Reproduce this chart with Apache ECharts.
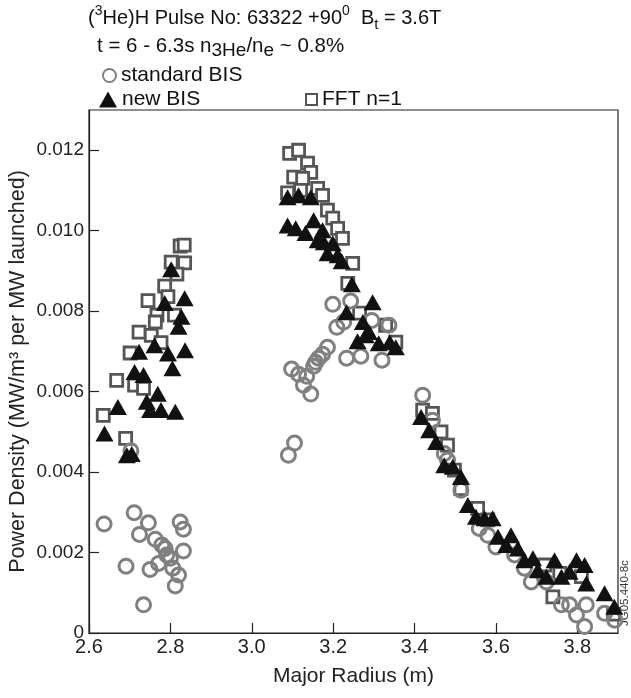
<!DOCTYPE html>
<html>
<head>
<meta charset="utf-8">
<script src="https://cdn.jsdelivr.net/npm/echarts@6/dist/echarts.min.js"></script>
<style>
  html, body { margin: 0; padding: 0; background: #fff; }
  #chart { width: 631px; height: 698px; }
</style>
</head>
<body>
<div id="chart"></div>
<script>
// Power density profiles vs major radius for three analysis methods
const standardR = [
  2.637, 2.711, 2.746, 2.724, 2.763, 2.779, 2.787, 2.824, 2.832, 2.832, 2.800, 2.771, 2.750, 2.806, 2.820, 2.812, 2.691, 2.734, 2.791, 2.703,
  3.090, 3.105, 3.098, 3.115, 3.127, 3.145, 3.135, 3.152, 3.164, 3.174, 3.186, 3.209, 3.226, 3.199, 3.243, 3.233, 3.268, 3.295, 3.320, 3.337, 3.157,
  3.420, 3.444, 3.473, 3.481, 3.514, 3.559, 3.580, 3.600, 3.646, 3.670, 3.687, 3.724, 3.761, 3.781, 3.798, 3.818, 3.822, 3.867, 3.892
];
const standardP = [
  0.00271, 0.00299, 0.00274, 0.00245, 0.00233, 0.00219, 0.00210, 0.00276, 0.00258, 0.00204, 0.00186, 0.00173, 0.00158, 0.00161, 0.00144, 0.00117, 0.00166, 0.00070, 0.00194, 0.00453,
  0.00442, 0.00472, 0.00656, 0.00643, 0.00616, 0.00594, 0.00638, 0.00663, 0.00683, 0.00693, 0.00710, 0.00760, 0.00773, 0.00817, 0.00825, 0.00683, 0.00688, 0.00777, 0.00678, 0.00765, 0.00673,
  0.00591, 0.00529, 0.00446, 0.00430, 0.00355, 0.00260, 0.00243, 0.00214, 0.00194, 0.00161, 0.00127, 0.00127, 0.00070, 0.00070, 0.00045, 0.00016, 0.00070, 0.00049, 0.00032
];

const newR = [
  2.802, 2.835, 2.786, 2.827, 2.820, 2.761, 2.723, 2.836, 2.794, 2.712, 2.734, 2.805, 2.769, 2.742, 2.750, 2.777, 2.812, 2.671, 2.638, 2.693, 2.705,
  3.088, 3.115, 3.145, 3.088, 3.108, 3.132, 3.152, 3.174, 3.162, 3.177, 3.199, 3.186, 3.211, 3.221, 3.246, 3.297, 3.233, 3.273, 3.288, 3.260, 3.280, 3.312, 3.339, 3.354,
  3.416, 3.436, 3.453, 3.473, 3.494, 3.514, 3.531, 3.551, 3.572, 3.592, 3.605, 3.637, 3.625, 3.654, 3.670, 3.691, 3.703, 3.724, 3.744, 3.761, 3.781, 3.798, 3.818, 3.822, 3.867, 3.891
];
const newP = [
  0.00904, 0.00832, 0.00820, 0.00786, 0.00761, 0.00715, 0.00699, 0.00703, 0.00695, 0.00649, 0.00641, 0.00658, 0.00595, 0.00575, 0.00554, 0.00554, 0.00550, 0.00562, 0.00496, 0.00442, 0.00445,
  0.01083, 0.01088, 0.01083, 0.01013, 0.01006, 0.00994, 0.01026, 0.01001, 0.00976, 0.00971, 0.00969, 0.00944, 0.00939, 0.00924, 0.00867, 0.00822, 0.00797, 0.00773, 0.00748, 0.00725, 0.00740, 0.00720, 0.00723, 0.00710,
  0.00537, 0.00504, 0.00475, 0.00417, 0.00413, 0.00388, 0.00318, 0.00289, 0.00285, 0.00285, 0.00239, 0.00243, 0.00219, 0.00210, 0.00181, 0.00186, 0.00156, 0.00140, 0.00181, 0.00140, 0.00152, 0.00181, 0.00169, 0.00123, 0.00099, 0.00065
];

const fftR = [
  2.824, 2.834, 2.835, 2.802, 2.816, 2.786, 2.794, 2.745, 2.767, 2.763, 2.810, 2.723, 2.753, 2.777, 2.701, 2.668, 2.712, 2.734, 2.635, 2.690,
  3.093, 3.115, 3.137, 3.145, 3.103, 3.125, 3.088, 3.120, 3.162, 3.174, 3.186, 3.199, 3.211, 3.223, 3.248, 3.236, 3.265, 3.329, 3.354,
  3.420, 3.444, 3.465, 3.481, 3.498, 3.514, 3.555, 3.580, 3.720, 3.757, 3.740, 3.810, 3.889
];
const fftP = [
  0.00962, 0.00964, 0.00920, 0.00922, 0.00892, 0.00862, 0.00836, 0.00826, 0.00790, 0.00773, 0.00790, 0.00748, 0.00740, 0.00722, 0.00696, 0.00628, 0.00616, 0.00608, 0.00541, 0.00484,
  0.01192, 0.01200, 0.01168, 0.01145, 0.01133, 0.01130, 0.01094, 0.01100, 0.01105, 0.01088, 0.01051, 0.01031, 0.01006, 0.00981, 0.00919, 0.00869, 0.00795, 0.00765, 0.00723,
  0.00554, 0.00546, 0.00500, 0.00467, 0.00405, 0.00359, 0.00310, 0.00281, 0.00169, 0.00148, 0.00090, 0.00140, 0.00047
];

const seriesNames = ['standard BIS', 'new BIS', 'FFT n=1'];
const yTickLabels = ['0', '0.002', '0.004', '0.006', '0.008', '0.010', '0.012'];
const xTickLabels = ['2.6', '2.8', '3.0', '3.2', '3.4', '3.6', '3.8'];

const FONT = 'Liberation Sans, Arial, Helvetica, sans-serif';
const zip = (xs, ys) => xs.map((x, i) => [x, ys[i]]);

const chart = echarts.init(document.getElementById('chart'), null, { renderer: 'canvas' });

const legendBase = {
  orient: 'horizontal',
  itemGap: 6,
  textStyle: { fontFamily: FONT, fontSize: 21, color: '#111' },
  selectedMode: false
};

chart.setOption({
  animation: false,
  backgroundColor: '#fff',
  grid: {
    left: 89, right: 13, top: 110, bottom: 65,
    outerBoundsMode: 'none', containLabel: false,
    show: true, borderColor: '#222', borderWidth: 1.2, backgroundColor: 'transparent'
  },
  xAxis: {
    type: 'value',
    min: 2.6, max: 3.9, interval: 0.2,
    name: 'Major Radius (m)',
    nameLocation: 'middle', nameGap: 33,
    nameTextStyle: { fontFamily: FONT, fontSize: 21, color: '#222' },
    axisLine: { show: true, lineStyle: { color: '#222', width: 1.2 } },
    axisTick: { show: true, inside: true, length: 10, lineStyle: { color: '#222', width: 1.2 } },
    axisLabel: {
      fontFamily: FONT, fontSize: 20, color: '#222', margin: 4, showMaxLabel: false,
      formatter: v => {
        const i = Math.round((v - 2.6) / 0.2);
        return Math.abs(v - (2.6 + i * 0.2)) < 1e-6 && xTickLabels[i] ? xTickLabels[i] : '';
      }
    },
    splitLine: { show: false }
  },
  yAxis: {
    type: 'value',
    min: 0, max: 0.013, interval: 0.002,
    name: 'Power Density (MW/m³ per MW launched)',
    nameLocation: 'middle', nameGap: 60, nameMoveOverlap: false,
    nameTextStyle: { fontFamily: FONT, fontSize: 21.5, color: '#222' },
    axisLine: { show: true, lineStyle: { color: '#222', width: 1.2 } },
    axisTick: { show: true, inside: true, length: 10, lineStyle: { color: '#222', width: 1.2 } },
    axisLabel: {
      fontFamily: FONT, fontSize: 19, color: '#222', margin: 5, showMaxLabel: false,
      formatter: v => {
        const i = Math.round(v / 0.002);
        return Math.abs(v - i * 0.002) < 1e-9 && yTickLabels[i] ? yTickLabels[i] : '';
      }
    },
    splitLine: { show: false }
  },
  legend: [
    Object.assign({}, legendBase, { left: 97, top: 60, data: [seriesNames[0]], itemWidth: 13, itemHeight: 13 }),
    Object.assign({}, legendBase, { left: 94, top: 84, data: [seriesNames[1]], itemWidth: 18, itemHeight: 16 }),
    Object.assign({}, legendBase, { left: 300, top: 84, data: [seriesNames[2]], itemWidth: 11, itemHeight: 11 })
  ],
  graphic: [
    {
      type: 'text', left: 88, top: 4,
      style: {
        text: '({sp|3}He)H Pulse No: 63322 +90{sp|0}  B{sb|t} = 3.6T',
        fontFamily: FONT, fontSize: 20, fill: '#111', lineHeight: 28,
        rich: {
          sp: { fontFamily: FONT, fontSize: 14, fill: '#111', lineHeight: 14, verticalAlign: 'top' },
          sb: { fontFamily: FONT, fontSize: 15, fill: '#111', lineHeight: 14, verticalAlign: 'bottom' }
        }
      }
    },
    {
      type: 'text', left: 97, top: 32,
      style: {
        text: 't = 6 - 6.3s n{sb|3He}/n{sb|e} ~ 0.8%',
        fontFamily: FONT, fontSize: 20.5, fill: '#111', lineHeight: 28,
        rich: {
          sb: { fontFamily: FONT, fontSize: 19, fill: '#111', lineHeight: 18, verticalAlign: 'bottom' }
        }
      }
    },
    {
      type: 'text', x: 631, y: 626, rotation: Math.PI / 2,
      style: {
        text: 'JG05.440-8c', fontFamily: FONT, fontSize: 11.5, fill: '#333',
        align: 'left', verticalAlign: 'bottom'
      }
    }
  ],
  series: [
    {
      name: seriesNames[2], type: 'scatter', z: 2,
      symbol: 'rect', symbolSize: 12,
      itemStyle: { color: '#fff', borderColor: '#555', borderWidth: 2.8, opacity: 1 },
      data: zip(fftR, fftP)
    },
    {
      name: seriesNames[0], type: 'scatter', z: 3,
      symbol: 'circle', symbolSize: 14,
      itemStyle: { color: 'rgba(255,255,255,0)', borderColor: '#808080', borderWidth: 3, opacity: 1 },
      data: zip(standardR, standardP)
    },
    {
      name: seriesNames[1], type: 'scatter', z: 4,
      symbol: 'triangle', symbolSize: [18, 16],
      itemStyle: { color: '#111', borderColor: '#111', borderWidth: 0, opacity: 1 },
      data: zip(newR, newP)
    }
  ]
});
</script>
</body>
</html>
